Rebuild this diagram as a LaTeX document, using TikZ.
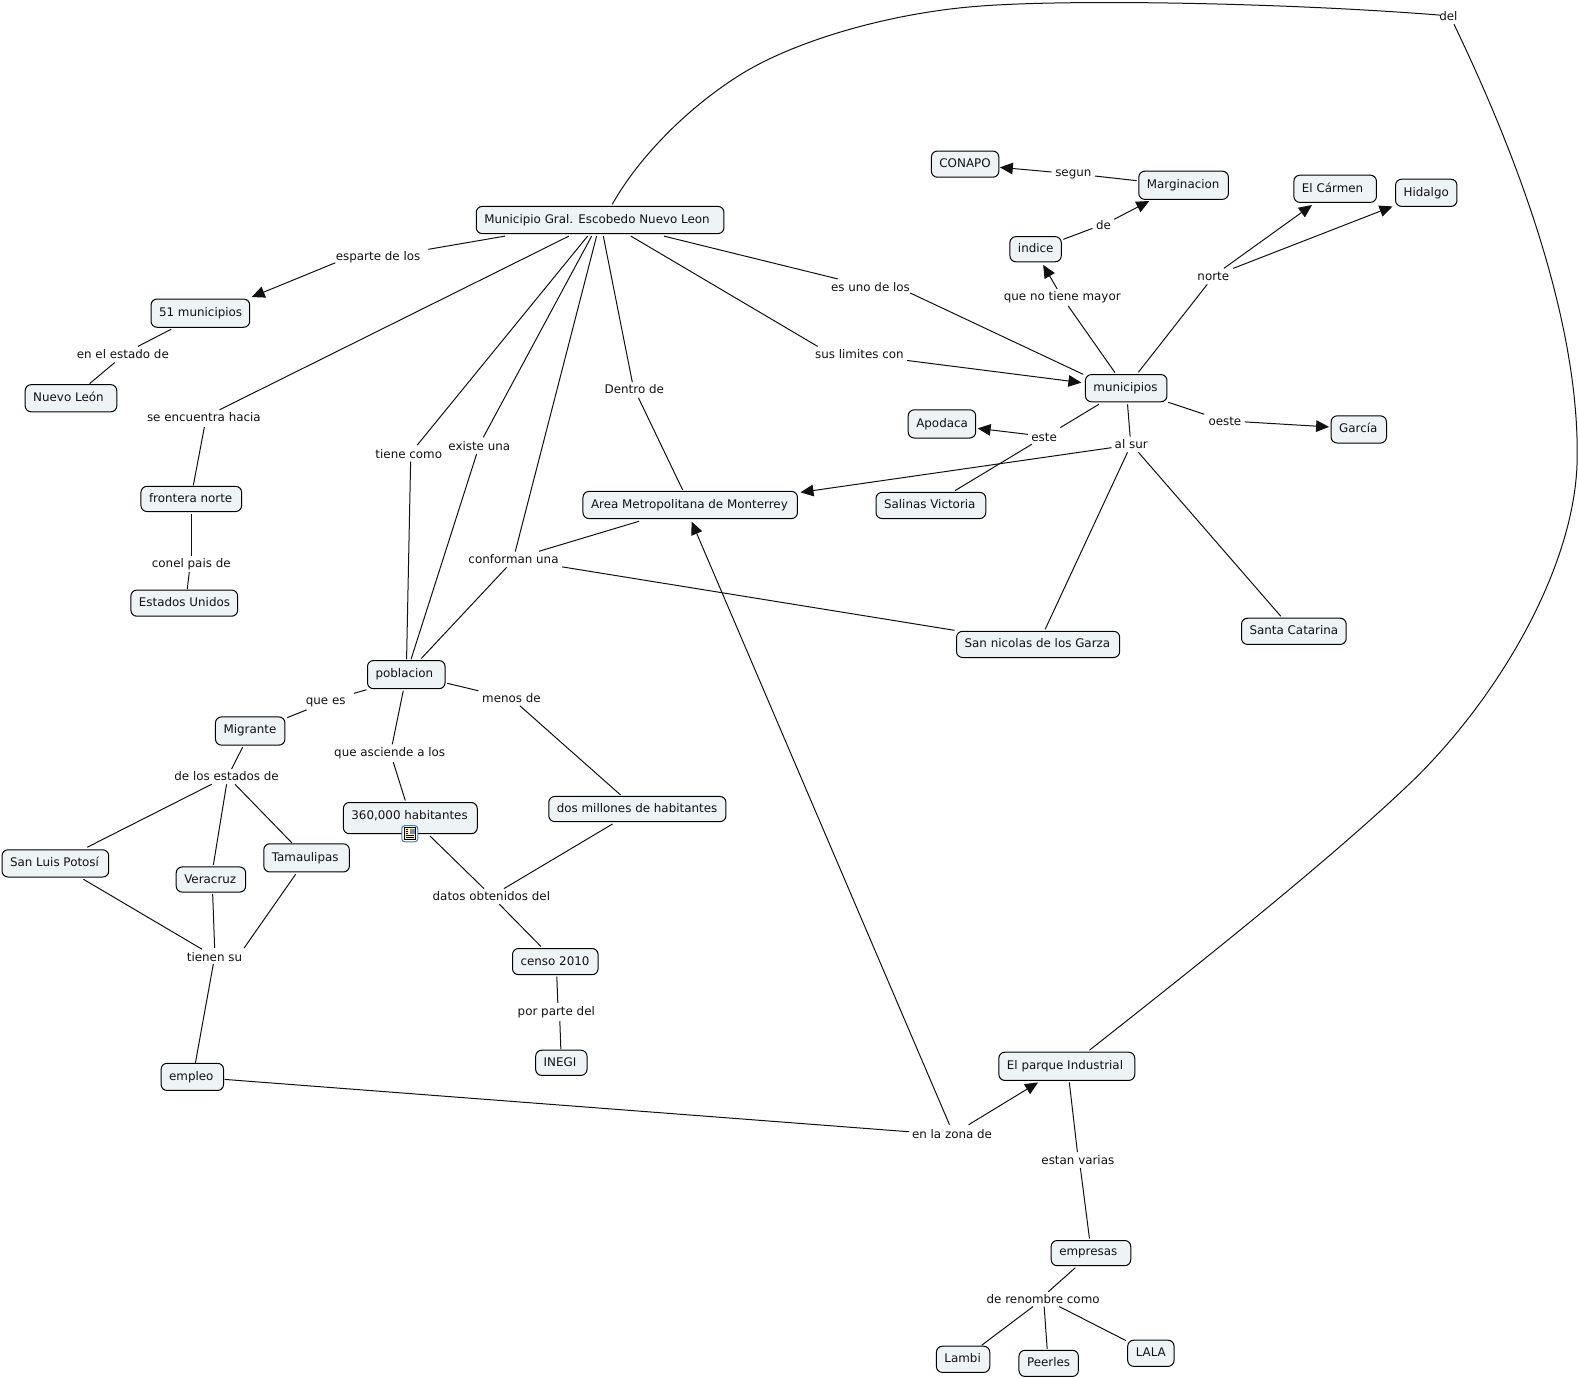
\documentclass[tikz,border=0pt]{standalone}
\usepackage{fontspec}
\setmainfont{DejaVu Sans}
\usetikzlibrary{arrows.meta}
\newdimen\ux \ux=0.5035pt
\definecolor{boxfill}{HTML}{EEF4F6}
\definecolor{inkc}{HTML}{111111}
\tikzset{
  lbl/.style={inner sep=0pt,text=inkc,font=\fontsize{5.95}{7}\selectfont,text height=6pt,text depth=1.5pt,anchor=center},
  bxs/.style={draw=black,line width=0.5pt,fill=boxfill,rounded corners=3pt,text=inkc,font=\fontsize{5.95}{7}\selectfont,
    inner ysep=0pt,inner xsep=8\ux,align=flush left,text height=5pt,text depth=1.5pt,anchor=center},
  ln/.style={draw=inkc,line width=0.5pt},
  ar/.style={ln,-{Triangle[length=6.5pt,width=5.8pt]}}
}
\newcommand\bx[6]{\node[bxs,minimum width=#4\ux,minimum height=#5\ux,text width=\dimexpr#4\ux-16\ux\relax] (#1) at (#2,#3) {\mbox{#6}};}
\newcommand\lb[4]{\node[lbl] (#1) at (#2,#3) {#4};}
\newcommand\lk[7][ln]{\draw[#1] ([shift={(#3,#4)}]#2.center) -- ([shift={(#6,#7)}]#5.center);}
\begin{document}
\begin{tikzpicture}[x=0.5035pt,y=-0.5035pt]
\useasboundingbox (0,0) rectangle (1567.2,1367.6);
% concepts
\bx{m}{596}{218.5}{246}{27}{Municipio Gral. Escobedo Nuevo Leon}
\bx{nf}{199}{311}{98}{28}{51 municipios}
\bx{nl}{70.5}{395.5}{91}{27}{Nuevo León}
\bx{fn}{190}{495.5}{100}{25}{frontera norte}
\bx{eu}{183}{599}{106}{26}{Estados Unidos}
\bx{amm}{685.5}{501.5}{213}{27}{Area Metropolitana de Monterrey}
\bx{pob}{403.5}{670}{77}{28}{\raisebox{0.5pt}{poblacion}}
\bx{mig}{248.5}{726}{69}{28}{\raisebox{0.5pt}{Migrante}}
\bx{dm}{633}{803.5}{176}{25}{dos millones de habitantes}
\bx{slp}{55}{857.5}{106}{27}{San Luis Potosí}
\bx{ver}{209.5}{873.5}{69}{25}{Veracruz}
\bx{tam}{304.5}{852}{85}{28}{Tamaulipas}
\bx{cen}{551.5}{955}{85}{26}{censo 2010}
\bx{ine}{557.5}{1055.5}{51}{25}{INEGI}
\bx{emp}{191}{1069.5}{62}{27}{empleo}
\bx{pi}{1059.5}{1059}{135}{28}{El parque Industrial}
\bx{ems}{1083.5}{1244.5}{79}{25}{\raisebox{0.5pt}{empresas}}
\bx{lam}{956.5}{1350}{53}{26}{Lambi}
\bx{pee}{1041.5}{1354}{59}{26}{Peerles}
\bx{lala}{1143}{1344}{46}{26}{LALA}
\bx{con}{958.5}{163}{67}{26}{CONAPO}
\bx{mar}{1175.5}{184}{89}{28}{Marginacion}
\bx{ind}{1028.5}{247.5}{51}{25}{indice}
\bx{car}{1326}{187.5}{82}{27}{El Cármen}
\bx{hid}{1416.5}{191.5}{61}{27}{Hidalgo}
\bx{mun}{1118.5}{385.5}{81}{27}{municipios}
\bx{apo}{935.5}{421}{67}{28}{Apodaca}
\bx{gar}{1349.5}{426.5}{55}{27}{García}
\bx{sal}{924.5}{502}{109}{26}{Salinas Victoria}
\bx{snl}{1031}{640}{162}{26}{San nicolas de los Garza}
\bx{sc}{1285}{627}{104}{26}{Santa Catarina}
\bx{h}{407.5}{812.5}{133}{31}{\raisebox{1pt}{360,000 habitantes}}
% linking phrases
\lb{esp}{375.5}{254}{esparte de los}
\lb{ees}{122}{352}{en el estado de}
\lb{seh}{202.5}{414}{se encuentra hacia}
\lb{cpd}{190}{559.5}{conel pais de}
\lb{tc}{406}{451}{tiene como}
\lb{ex}{476}{443}{existe una}
\lb{dd}{630}{386.5}{Dentro de}
\lb{cu}{510}{555.5}{conforman una}
\lb{eul}{864.5}{285}{es uno de los}
\lb{slc}{853.5}{352}{sus limites con}
\lb{qn}{1055}{294}{que no tiene mayor}
\lb{de}{1096}{223}{de}
\lb{seg}{1066}{171}{segun}
\lb{nor}{1205}{274.5}{norte}
\lb{oes}{1216.5}{418}{oeste}
\lb{est}{1037}{433.5}{este}
\lb{as}{1123.5}{441}{al sur}
\lb{del}{1438.5}{16}{del}
\lb{qe}{323.5}{695}{que es}
\lb{md}{508}{693.5}{menos de}
\lb{qa}{387}{747}{que asciende a los}
\lb{dle}{225}{771}{de los estados de}
\lb{dod}{488}{890}{datos obtenidos del}
\lb{ts}{213}{950.5}{tienen su}
\lb{ppd}{552.5}{1004.5}{por parte del}
\lb{zon}{945.5}{1126.5}{en la zona de}
\lb{ev}{1070.5}{1152}{estan varias}
\lb{rc}{1036}{1290}{de renombre como}
% connectors
\lk{m}{-94.5}{16}{esp}{49.9}{-6.4}
\lk[ar]{esp}{-42.5}{7}{nf}{51}{-16}
\lk{nf}{-29}{16}{ees}{15}{-8}
\lk{ees}{-8}{8}{nl}{18.5}{-14.5}
\lk{m}{-31}{16}{seh}{15.5}{-7}
\lk{seh}{0.5}{10}{fn}{2}{-13.5}
\lk{fn}{0}{14.5}{cpd}{0}{-7.5}
\lk{cpd}{-2}{8.5}{eu}{3}{-14}
\lk{m}{-12.4}{16}{tc}{8.4}{-9}
\lk{tc}{1.8}{7.5}{pob}{0.3}{-15.2}
\lk{m}{-8.4}{16}{ex}{4}{-8.7}
\lk{ex}{-2.6}{7.8}{pob}{4.7}{-15.2}
\lk{m}{-3.5}{16}{cu}{1.7}{-7.7}
\lk{cu}{-6.8}{7.9}{pob}{14.9}{-16}
\lk{cu}{25.3}{-8}{amm}{-50.9}{16.2}
\lk{cu}{48.4}{7.5}{snl}{-83}{-14}
\lk{m}{3.2}{16}{dd}{-2}{-6.9}
\lk{dd}{4}{8.5}{amm}{-7.5}{-14.9}
\lk{m}{30.6}{16}{slc}{-41.5}{-8}
\lk[ar]{slc}{47.5}{6}{mun}{-44.5}{-5.5}
\lk{m}{63.4}{16}{eul}{-32.5}{-8}
\lk{eul}{39.5}{6}{mun}{-42.7}{-13.7}
\lk{mun}{-11.2}{-15.5}{qn}{5.9}{9.9}
\lk[ar]{qn}{-5}{-7}{ind}{7.5}{15.5}
\lk{ind}{27.5}{-9.8}{de}{-11}{3.8}
\lk[ar]{de}{10.6}{-5.2}{mar}{-34.1}{15.6}
\lk{mar}{-46.7}{-4.6}{seg}{21.4}{3.8}
\lk[ar]{seg}{-21.6}{-0.2}{con}{34.5}{3.2}
\lk{mun}{12.1}{-15.8}{nor}{-6}{7.9}
\lk[ar]{nor}{10.5}{-8}{car}{-23}{16.1}
\lk[ar]{nor}{19.8}{-8}{hid}{-33.5}{13.5}
\lk{mun}{-27.1}{16}{est}{16}{-8.8}
\lk[ar]{est}{-16}{-2.1}{apo}{35.4}{4.4}
\lk{est}{-12.2}{7.7}{sal}{23.9}{-14.7}
\lk{mun}{1.3}{16}{as}{-1.1}{-7.4}
\lk[ar]{as}{-19.6}{3.6}{amm}{109.5}{-12.5}
\lk{as}{-3.7}{8.2}{snl}{7}{-15}
\lk{as}{7.1}{8.2}{sc}{-13}{-15}
\lk{mun}{41.7}{14}{oes}{-20.5}{-6.6}
\lk[ar]{oes}{19.5}{1}{gar}{-29.5}{-2.5}
\lk{pob}{-39.5}{15}{qe}{28}{-6.4}
\lk{qe}{-19}{10}{mig}{36.8}{-13.3}
\lk{pob}{40.7}{8.6}{md}{-33}{-7.5}
\lk{md}{8.4}{7.5}{dm}{-16.7}{-14}
\lk{pob}{-3}{16}{qa}{2.6}{-7.8}
\lk{qa}{3.6}{10}{h}{-5}{-17.5}
\lk{h}{19.5}{17.7}{dod}{-7.4}{-7.5}
\lk{dm}{-24.6}{14.8}{dod}{12.5}{-7.5}
\lk{dod}{7.9}{8}{cen}{-14.3}{-15}
\lk{cen}{1.5}{15}{ppd}{1.5}{-8.5}
\lk{ppd}{3.5}{9.5}{ine}{-0.5}{-13.5}
\lk{mig}{-7.5}{16}{dle}{5}{-7.3}
\lk{dle}{-14.8}{7.9}{slp}{31.7}{-16.1}
\lk{dle}{0}{7.9}{ver}{2.4}{-14.5}
\lk{dle}{8.4}{7.9}{tam}{-14.5}{-14.8}
\lk{slp}{27.8}{15.7}{ts}{-12.4}{-7.8}
\lk{ver}{1.7}{14.3}{ts}{0.2}{-8.8}
\lk{tam}{-10.9}{16.3}{ts}{29.3}{-8.8}
\lk{ts}{-1.1}{6.8}{emp}{3}{-13.5}
\lk{emp}{32}{2.5}{zon}{-42.5}{-2.5}
\lk[ar]{zon}{16.5}{-9.5}{pi}{-28.5}{16}
\lk[ar]{zon}{-2.5}{-9.5}{amm}{1.4}{16.5}
\lk{pi}{2.5}{16}{ev}{-0.5}{-8}
\lk{ev}{2.5}{8}{ems}{-1.5}{-14.5}
\lk{ems}{-15.5}{14.5}{rc}{5}{-7}
\lk{rc}{-10}{7.6}{lam}{18.5}{-14}
\lk{rc}{1}{7.6}{pee}{-1.5}{-14.3}
\lk{rc}{16}{7.6}{lala}{-24.8}{-12.6}
% long curves
\draw[ln] ([shift={(12,-15.5)}]m.center) .. controls (635,155) and (685,105) .. (737.5,72.8)
  .. controls (790,40.8) and (880,14) .. (966.2,6.6)
  .. controls (1060,-1.5) and (1280,3) .. ([shift={(-8.5,-1)}]del.center);
\draw[ln] ([shift={(5.5,8)}]del.center) .. controls (1490,120) and (1568,300) .. (1566.4,453.5)
  .. controls (1566,560) and (1490,690) .. (1404.9,773.6)
  .. controls (1320,855.6) and (1172,972) .. ([shift={(22.5,-16)}]pi.center);
% resource icon
\begin{scope}[shift={(407,828)}]
\fill[fill=white,draw={rgb,255:red,70;green,120;blue,190},line width=0.5pt,rounded corners=1.5pt] (-8,-8) rectangle (8,8);
\fill[fill={rgb,255:red,250;green,240;blue,170},draw=black,line width=0.4pt] (-5.5,-6) rectangle (5.5,6);
\foreach \yy in {1.5,3.5} \draw[black,line width=0.5pt] (-4,\yy) -- (4,\yy);
\foreach \yy in {-4,-2,0} \draw[black,line width=0.5pt] (-4,\yy) -- (-1.5,\yy);
\fill[fill={rgb,255:red,120;green,140;blue,190}] (0,-5) rectangle (5,0);
\end{scope}
\end{tikzpicture}
\end{document}
